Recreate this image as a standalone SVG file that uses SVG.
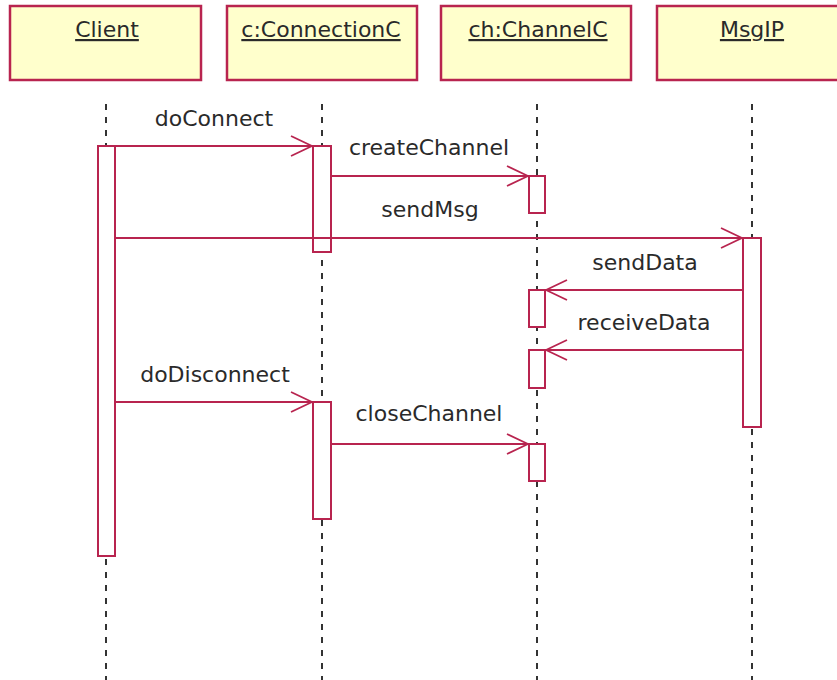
<svg xmlns="http://www.w3.org/2000/svg" width="837" height="680" viewBox="0 0 837 680">
  <defs>
    <style>
      .head { fill: #ffffcc; stroke: #b8244f; stroke-width: 2.5; }
      .name { font-family: "DejaVu Sans", sans-serif; font-size: 22px; fill: #2a2a2a; text-anchor: middle; text-decoration: underline; }
      .life { stroke: #333; stroke-width: 2; stroke-dasharray: 6 7; fill: none; }
      .act { fill: #ffffff; stroke: #b8244f; stroke-width: 2; }
      .msg { stroke: #b8244f; stroke-width: 1.8; fill: none; }
      .lbl { font-family: "DejaVu Sans", sans-serif; font-size: 22px; fill: #2a2a2a; text-anchor: middle; }
    </style>
    <marker id="open" viewBox="0 0 24 24" refX="22" refY="12" markerWidth="24" markerHeight="24" markerUnits="userSpaceOnUse" orient="auto">
      <path d="M1 2 L22 12 L1 22" fill="none" stroke="#b8244f" stroke-width="1.8"/>
    </marker>
  </defs>
  <rect width="837" height="680" fill="#ffffff"/>

  <!-- lifelines -->
  <g id="lifelines">
    <line class="life" x1="106" y1="104" x2="106" y2="680"/>
    <line class="life" x1="322" y1="104" x2="322" y2="680"/>
    <line class="life" x1="537" y1="104" x2="537" y2="680"/>
    <line class="life" x1="752" y1="104" x2="752" y2="680"/>
  </g>

  <g id="client">
    <rect class="head" x="10" y="6" width="191" height="74"/>
    <text class="name" x="107" y="37">Client</text>
    <rect class="act" x="98" y="146" width="17" height="410"/>
  </g>

  <g id="connection">
    <rect class="head" x="227" y="6" width="190" height="74"/>
    <text class="name" x="321" y="37">c:ConnectionC</text>
    <rect class="act" x="313" y="146" width="18" height="106"/>
    <rect class="act" x="313" y="402" width="18" height="117"/>
  </g>

  <g id="channel">
    <rect class="head" x="441" y="6" width="190" height="74"/>
    <text class="name" x="538" y="37">ch:ChannelC</text>
    <rect class="act" x="529" y="176" width="16" height="37"/>
    <rect class="act" x="529" y="290" width="16" height="37"/>
    <rect class="act" x="529" y="350" width="16" height="38"/>
    <rect class="act" x="529" y="444" width="16" height="37"/>
  </g>

  <g id="msgip">
    <rect class="head" x="657" y="6" width="191" height="74"/>
    <text class="name" x="752" y="37">MsgIP</text>
    <rect class="act" x="743" y="238" width="18" height="189"/>
  </g>

  <!-- messages -->
  <g id="connectors">
    <line class="msg" x1="115" y1="146" x2="312" y2="146" marker-end="url(#open)"/>
    <line class="msg" x1="331" y1="176" x2="528" y2="176" marker-end="url(#open)"/>
    <line class="msg" x1="115" y1="238" x2="742" y2="238" marker-end="url(#open)"/>
    <line class="msg" x1="743" y1="290" x2="546" y2="290" marker-end="url(#open)"/>
    <line class="msg" x1="743" y1="350" x2="546" y2="350" marker-end="url(#open)"/>
    <line class="msg" x1="115" y1="402" x2="312" y2="402" marker-end="url(#open)"/>
    <line class="msg" x1="331" y1="444" x2="528" y2="444" marker-end="url(#open)"/>
  </g>

  <g id="labels">
    <text class="lbl" x="214" y="126">doConnect</text>
    <text class="lbl" x="429" y="155">createChannel</text>
    <text class="lbl" x="430" y="217">sendMsg</text>
    <text class="lbl" x="645" y="270">sendData</text>
    <text class="lbl" x="644" y="330">receiveData</text>
    <text class="lbl" x="215" y="382">doDisconnect</text>
    <text class="lbl" x="429" y="421">closeChannel</text>
  </g>
</svg>
